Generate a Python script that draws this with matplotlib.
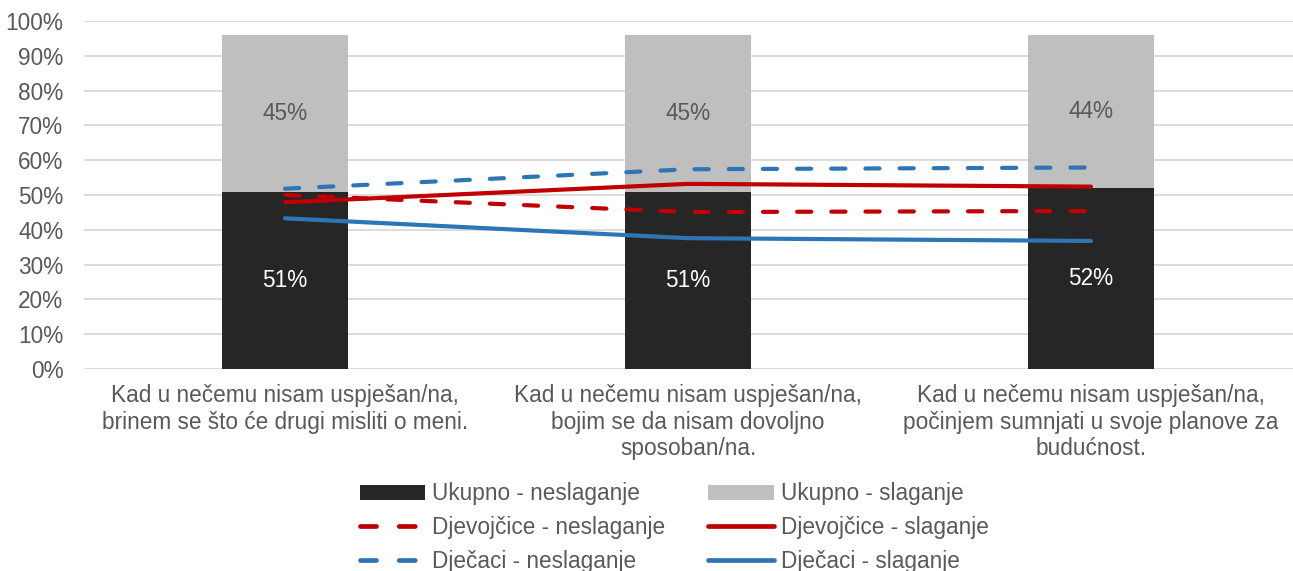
import matplotlib
matplotlib.use("Agg")
import matplotlib.pyplot as plt
import numpy as np

plt.rcParams['font.family'] = ['Liberation Sans', 'DejaVu Sans']

categories = [
    "Kad u nečemu nisam uspješan/na,\nbrinem se što će drugi misliti o meni.",
    "Kad u nečemu nisam uspješan/na,\nbojim se da nisam dovoljno\nsposoban/na.",
    "Kad u nečemu nisam uspješan/na,\npočinjem sumnjati u svoje planove za\nbudućnost.",
]
ukupno_neslaganje = [51, 51, 52]
ukupno_slaganje = [45, 45, 44]
djevojcice_neslaganje = [50.0, 45.1, 45.4]
djevojcice_slaganje = [47.9, 53.2, 52.4]
djecaci_neslaganje = [51.8, 57.4, 57.9]
djecaci_slaganje = [43.3, 37.6, 36.8]
yticks = [0, 10, 20, 30, 40, 50, 60, 70, 80, 90, 100]

DARK = '#262626'
GRAY = '#BFBFBF'
RED = '#C00000'
BLUE = '#2E75B6'
TXT = '#595959'
FS = 16.3

fig = plt.figure(figsize=(12.93, 5.71), dpi=100)
ax = fig.add_axes([83.5/1293, 1-369/571, (1292.5-83.5)/1293, (369-21)/571])

x = np.arange(len(categories))
w = 0.314
b1 = ax.bar(x, ukupno_neslaganje, w, color=DARK, zorder=2, label='Ukupno - neslaganje')
b2 = ax.bar(x, ukupno_slaganje, w, bottom=ukupno_neslaganje, color=GRAY, zorder=2, label='Ukupno - slaganje')

for i in range(len(x)):
    ax.text(x[i], ukupno_neslaganje[i]/2, f"{ukupno_neslaganje[i]}%", ha='center', va='center',
            color='white', fontsize=FS, zorder=5)
    ax.text(x[i], ukupno_neslaganje[i] + ukupno_slaganje[i]/2, f"{ukupno_slaganje[i]}%", ha='center',
            va='center', color=TXT, fontsize=FS, zorder=5)

lw = 3.0
dash = (3.4, 4.8)
l1, = ax.plot(x, djevojcice_neslaganje, color=RED, lw=lw, dashes=dash, dash_capstyle='round',
              solid_capstyle='round', zorder=3, label='Djevojčice - neslaganje')
l2, = ax.plot(x, djevojcice_slaganje, color=RED, lw=lw, solid_capstyle='round', zorder=3,
              label='Djevojčice - slaganje')
l3, = ax.plot(x, djecaci_neslaganje, color=BLUE, lw=lw, dashes=dash, dash_capstyle='round',
              zorder=3, label='Dječaci - neslaganje')
l4, = ax.plot(x, djecaci_slaganje, color=BLUE, lw=lw, solid_capstyle='round', zorder=3,
              label='Dječaci - slaganje')

ax.set_xlim(-0.5, len(categories) - 0.5)
ax.set_ylim(0, 100)
ax.set_yticks(yticks)
ax.set_yticklabels([f"{t}%" for t in yticks])
ax.set_xticks(x)
ax.set_xticklabels(categories, linespacing=1.2)
ax.tick_params(axis='both', length=0, labelsize=FS, labelcolor=TXT)
ax.tick_params(axis='y', pad=14.5)
ax.tick_params(axis='x', pad=11)
ax.grid(axis='y', color='#D9D9D9', lw=1.3, zorder=0)
ax.set_axisbelow(True)
for s in ax.spines.values():
    s.set_visible(False)

handles = [b1, l1, l3, b2, l2, l4]
labels = [h.get_label() for h in handles]
leg = fig.legend(handles, labels, ncol=2, loc='center', bbox_to_anchor=(674/1293, 1-527.5/571),
                 frameon=False, fontsize=FS, handlelength=2.9, handletextpad=0.3,
                 columnspacing=1.9, labelspacing=0.48, handleheight=0.65)
for t in leg.get_texts():
    t.set_color(TXT)
for h in leg.legend_handles:
    if hasattr(h, 'set_linewidth') and not hasattr(h, 'get_height'):
        h.set_linewidth(3.4)

fig.savefig('out.png', dpi=100)
